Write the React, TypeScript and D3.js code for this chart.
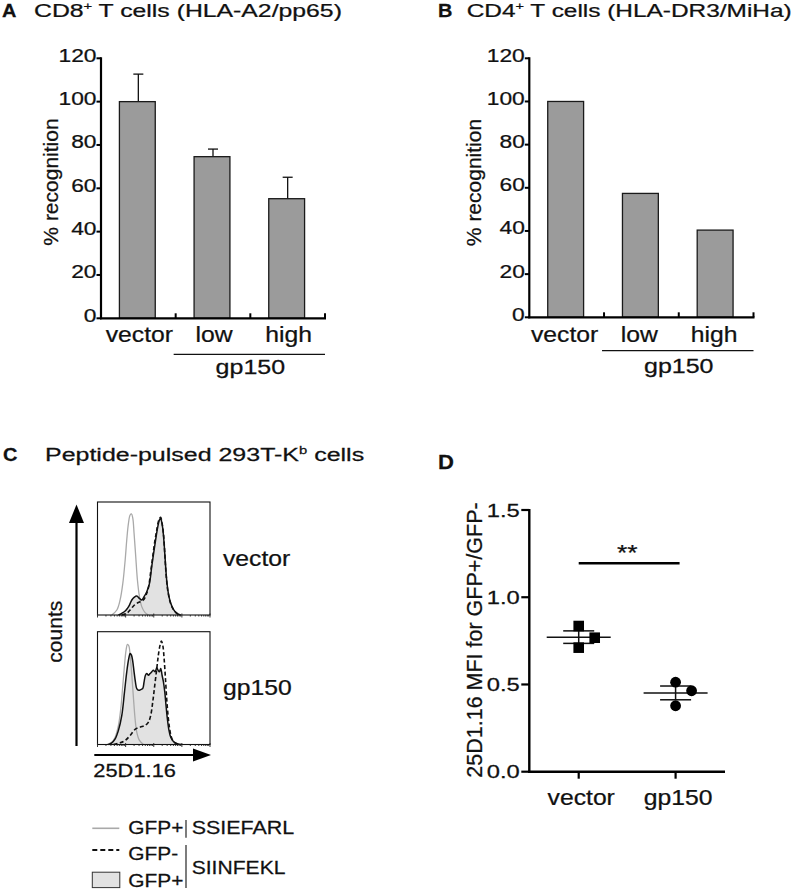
import React from "react";
import * as d3 from "d3";

// ---------------- DATA ----------------
const barCategories = ["vector", "low", "high"];
const cd8Recognition = [100, 74.6, 55.2];
const cd8Error = [12.7, 3.5, 9.9];
const cd4Recognition = [100, 57.4, 40.4];
const recognitionTicks = [0, 20, 40, 60, 80, 100, 120];

// Flow histograms: [25D1.16 position (0-100 of axis), normalized counts (0-100)]
const vecGfpPosSSIEFARL: [number, number][] = [[12.7,0],[17.2,4.4],[20.1,13.3],[22.5,28],[24.6,48.7],[26,66.4],[27.5,81.1],[29,88.5],[30.2,89.4],[31.4,85.5],[32.5,72.3],[34,51.6],[35.5,30.7],[37.3,16.2],[39.3,7.4],[42.3,2.1],[45.3,0]];
const vecGfpPosSIINFEKL: [number, number][] = [[18.6,0],[21.6,1.5],[24.6,3.5],[26.6,5.9],[28.4,8.8],[30.5,13.3],[32.5,15.6],[34.9,16.8],[37.3,14.7],[39.3,13.3],[41.4,16.2],[43.8,20.6],[46.2,28],[48.2,42.8],[50.3,57.5],[52.1,69.3],[53.6,78.2],[55,84.1],[55.9,85.5],[56.8,83.5],[58,76.7],[59.2,63.4],[60.4,45.7],[61.5,31],[63,19.2],[65.1,10.3],[67.5,5],[70.4,1.5],[74,0]];
const vecGfpNegSIINFEKL: [number, number][] = [[21.6,0],[26,1.5],[29,4.4],[32,8],[34.9,10.3],[37.9,11.8],[40.8,13.3],[43.2,17.7],[45.3,24.5],[47.3,38.3],[49.1,51.6],[50.9,64.9],[52.7,75.2],[54.1,82.6],[55.3,85.5],[56.2,86.4],[57.4,81.1],[58.6,72.3],[59.8,54.6],[60.9,36.9],[62.4,22.1],[64.5,11.8],[66.9,5.9],[69.8,2.1],[73.4,0]];
const gpGfpPosSSIEFARL: [number, number][] = [[8.3,0],[12.7,2.1],[15.7,6.5],[18.6,16.9],[20.7,31.8],[22.5,52.5],[24,70.3],[25.4,83.7],[26.6,88.7],[27.8,87.5],[29,79.2],[30.5,61.4],[32,40.7],[33.4,22.8],[34.9,11],[37.3,3.6],[40.8,0]];
const gpGfpPosSIINFEKL: [number, number][] = [[9.8,0],[12.7,1.5],[15.7,5],[18.6,12.5],[21.6,25.8],[24,46.6],[26,64.4],[27.8,76.3],[29,80.7],[30.2,79.2],[31.4,73.3],[32.5,64.4],[33.7,55.5],[34.9,49.6],[36.7,48.1],[38.5,48.7],[40.2,49.6],[41.4,55.5],[42.6,61.4],[43.8,62.9],[45.3,61.4],[46.7,62.9],[48.2,64.4],[49.7,65.9],[51.2,64.4],[52.7,68],[53.8,65.9],[55,64.4],[56.2,67.4],[57.4,61.4],[58.6,55.5],[59.8,46.6],[60.9,34.7],[62.1,22.8],[63.3,13.9],[65.1,6.5],[67.5,2.7],[71,0.6],[74.9,0]];
const gpGfpNegSIINFEKL: [number, number][] = [[14.2,0],[20.1,1.5],[24.6,3.6],[29,8],[33.4,13.4],[37.9,15.4],[42.3,16.9],[45.3,19.9],[47.3,25.8],[49.1,37.7],[50.9,52.5],[52.7,67.4],[54.1,79.2],[55.6,88.1],[56.8,91.7],[58,88.1],[59.2,76.3],[60.4,58.5],[61.5,40.7],[62.7,25.8],[63.9,15.4],[65.7,6.5],[68,2.1],[71.9,0]];
const histRows = ["vector", "gp150"];

const mfiCategories = ["vector", "gp150"];
const mfiVector = [0.835, 0.768, 0.711];
const mfiGp150 = [0.513, 0.464, 0.378];
const mfiTicks = [0, 0.5, 1.0, 1.5];
const mfiTickLabels = ["0.0", "0.5", "1.0", "1.5"];

// ---------------- HELPERS ----------------
const FONT = "'Liberation Sans', Arial, Helvetica, sans-serif";
const INK = "#111";

function T(props: any) {
  const { x, y, sx = 1, size = 19, anchor = "start", weight, rotate, children } = props;
  const tr = rotate
    ? `translate(${x},${y}) rotate(-90) scale(${sx},1)`
    : `translate(${x},${y}) scale(${sx},1)`;
  return (
    <text transform={tr} fontSize={size} textAnchor={anchor} fontWeight={weight} fill={INK} stroke={INK} strokeWidth={0.25}>
      {children}
    </text>
  );
}

function BarPanel(props: any) {
  const { x0, x1, yTop, yBottom, values, errors, labelX, bracketY, gpBaseline } = props;
  const y = d3.scaleLinear().domain([0, 120]).range([yBottom, yTop]);
  const x = d3.scaleBand<string>().domain(barCategories).range([x0 - 1, x1 - 1]).paddingInner(0.52).paddingOuter(0.26);
  const step = x.step();
  return (
    <g>
      {barCategories.map((c, i) => {
        const v = values[i];
        const bx = x(c)!;
        const cx = bx + x.bandwidth() / 2;
        return (
          <g key={c}>
            {errors && (
              <g stroke="#111" strokeWidth={1.3}>
                <line x1={cx + 1} x2={cx + 1} y1={y(v)} y2={y(v + errors[i])} />
                <line x1={cx - 4} x2={cx + 6} y1={y(v + errors[i])} y2={y(v + errors[i])} />
              </g>
            )}
            <rect x={bx} y={y(v)} width={x.bandwidth()} height={y(0) - y(v)} fill="#9b9b9b" stroke="#1a1a1a" strokeWidth={1.3} />
          </g>
        );
      })}
      {/* y axis */}
      <line x1={x0} x2={x0} y1={yTop - 1} y2={yBottom + 1} stroke="#000" strokeWidth={2.2} />
      {recognitionTicks.map((t) => (
        <g key={t}>
          <line x1={x0 - 4.5} x2={x0} y1={y(t)} y2={y(t)} stroke="#000" strokeWidth={2} />
          <T x={x0 - 4.5} y={y(t) + 3.5} size={19} sx={1.2} anchor="end">{String(t)}</T>
        </g>
      ))}
      {/* x axis */}
      <line x1={x0 - 1} x2={x1 + 1} y1={yBottom} y2={yBottom} stroke="#000" strokeWidth={2.2} />
      {barCategories.map((c, i) => (
        <line key={c} x1={x0 + step * (i + 1)} x2={x0 + step * (i + 1)} y1={yBottom} y2={yBottom - 5} stroke="#000" strokeWidth={2} />
      ))}
      {barCategories.map((c) => (
        <T key={c} x={x(c)! + x.bandwidth() / 2 + labelX} y={341.7} size={21.5} sx={1.15} anchor="middle">{c}</T>
      ))}
      <line x1={x0 + step - 2} x2={x1} y1={bracketY} y2={bracketY} stroke="#111" strokeWidth={1.2} />
      <T x={(x0 + step + x1) / 2} y={gpBaseline} size={20} sx={1.25} anchor="middle">gp150</T>
    </g>
  );
}

function Histogram(props: any) {
  const { top, bottom, pos, neg, ctrl } = props;
  const left = 97.5, right = 210;
  const xs = d3.scaleLinear().domain([0, 100]).range([left, right]);
  const ys = d3.scaleLinear().domain([0, 100]).range([bottom, top]);
  const line = d3.line<[number, number]>().x((d) => xs(d[0])).y((d) => ys(d[1])).curve(d3.curveCatmullRom.alpha(0.5));
  const area = d3.area<[number, number]>().x((d) => xs(d[0])).y0(ys(0)).y1((d) => ys(d[1])).curve(d3.curveCatmullRom.alpha(0.5));
  const ticks: { x: number; major: boolean }[] = [];
  const decade = (right - left) / 4;
  for (let d = 0; d < 4; d++) {
    for (let k = 1; k <= 9; k++) ticks.push({ x: left + decade * (d + Math.log10(k)), major: k === 1 });
  }
  ticks.push({ x: right, major: true });
  return (
    <g>
      <path d={area(pos)!} fill="#e2e2e2" stroke="none" />
      <path d={line(ctrl)!} fill="none" stroke="#a9a9a9" strokeWidth={1.3} />
      <path d={line(pos)!} fill="none" stroke="#111" strokeWidth={1.5} />
      <path d={line(neg)!} fill="none" stroke="#111" strokeWidth={1.6} strokeDasharray="4,2.5" />
      <rect x={left} y={top} width={right - left} height={bottom - top} fill="none" stroke="#111" strokeWidth={1.1} />
      {ticks.map((t, i) => (
        <line key={i} x1={t.x} x2={t.x} y1={bottom - (t.major ? 1.5 : 0)} y2={bottom + (t.major ? 2.5 : 1.5)} stroke="#222" strokeWidth={0.9} />
      ))}
    </g>
  );
}

function MfiPanel() {
  const x0 = 529.3, x1 = 725;
  const y = d3.scaleLinear().domain([0, 1.5]).range([771.7, 510]);
  const x = d3.scalePoint<string>().domain(mfiCategories).range([x0, x1]).padding(0.51);
  const groups = [mfiVector, mfiGp150];
  const jitter = [0, 16, 0];
  return (
    <g>
      {groups.map((vals, gi) => {
        const cx = x(mfiCategories[gi])!;
        const mean = d3.mean(vals)!;
        const sem = d3.deviation(vals)! / Math.sqrt(vals.length);
        return (
          <g key={gi}>
            <g stroke="#111" strokeWidth={1.5}>
              <line x1={cx - 32} x2={cx + 32} y1={y(mean)} y2={y(mean)} />
              <line x1={cx - 15.5} x2={cx + 15.5} y1={y(mean + sem)} y2={y(mean + sem)} />
              <line x1={cx - 15.5} x2={cx + 15.5} y1={y(mean - sem)} y2={y(mean - sem)} />
              <line x1={cx} x2={cx} y1={y(mean + sem)} y2={y(mean - sem)} />
            </g>
            {vals.map((v, i) =>
              gi === 0 ? (
                <rect key={i} x={cx + jitter[i] - 5.3} y={y(v) - 5.3} width={10.6} height={10.6} fill="#000" />
              ) : (
                <circle key={i} cx={cx + jitter[i]} cy={y(v)} r={5.4} fill="#000" />
              )
            )}
          </g>
        );
      })}
      <line x1={x0} x2={x0} y1={509} y2={772.9} stroke="#000" strokeWidth={2.4} />
      <line x1={x0 - 1} x2={x1} y1={771.7} y2={771.7} stroke="#000" strokeWidth={2.4} />
      {mfiTicks.map((t, i) => (
        <g key={t}>
          <line x1={x0 - 8} x2={x0} y1={y(t)} y2={y(t)} stroke="#000" strokeWidth={2.2} />
          <T x={x0 - 9.5} y={y(t) + 6.6} size={19} sx={1.25} anchor="end">{mfiTickLabels[i]}</T>
        </g>
      ))}
      {mfiCategories.map((c) => (
        <g key={c}>
          <line x1={x(c)!} x2={x(c)!} y1={771.7} y2={778.7} stroke="#000" strokeWidth={2.2} />
          <T x={x(c)! + 2.5} y={805} size={21.5} sx={1.15} anchor="middle">{c}</T>
        </g>
      ))}
      <line x1={x(mfiCategories[0])!} x2={x(mfiCategories[1])! + 4} y1={563.3} y2={563.3} stroke="#000" strokeWidth={2.5} />
      <T x={627.3} y={560} size={22} sx={1.2} anchor="middle">**</T>
      <T x={481.5} y={640} size={21.5} anchor="middle" rotate>25D1.16 MFI for GFP+/GFP-</T>
    </g>
  );
}

export default function App() {
  return (
    <svg width={797} height={889} style={{ position: "absolute", left: 0, top: 0, background: "#fff" }} fontFamily={FONT}>
      <rect width={797} height={889} fill="#fff" />
      {/* Panel A */}
      <T x={2} y={17.3} size={19} weight="bold" sx={1.05}>A</T>
      <T x={34} y={17.3} size={18.5} sx={1.34}>
        CD8<tspan fontSize={11} dy={-7}>+</tspan><tspan dy={7}> T cells (HLA-A2/pp65)</tspan>
      </T>
      <T x={57.5} y={182} size={21} anchor="middle" rotate>% recognition</T>
      <BarPanel x0={101} x1={325} yTop={58.3} yBottom={318.3} values={cd8Recognition} errors={cd8Error} labelX={2} bracketY={354.3} gpBaseline={374} />

      {/* Panel B */}
      <T x={438} y={17.3} size={19} weight="bold" sx={1.05}>B</T>
      <T x={466.7} y={17.3} size={18.5} sx={1.32}>
        CD4<tspan fontSize={11} dy={-7}>+</tspan><tspan dy={7}> T cells (HLA-DR3/MiHa)</tspan>
      </T>
      <T x={480.5} y={182.5} size={21} anchor="middle" rotate>% recognition</T>
      <BarPanel x0={529.3} x1={753.5} yTop={58.3} yBottom={317.3} values={cd4Recognition} labelX={-1} bracketY={350.7} gpBaseline={373} />

      {/* Panel C */}
      <T x={3} y={460.7} size={19} weight="bold" sx={1.05}>C</T>
      <T x={45} y={460.7} size={18.5} sx={1.35}>
        Peptide-pulsed 293T-K<tspan fontSize={11} dy={-7}>b</tspan><tspan dy={7}> cells</tspan>
      </T>
      <Histogram top={502} bottom={615} pos={vecGfpPosSIINFEKL} neg={vecGfpNegSIINFEKL} ctrl={vecGfpPosSSIEFARL} />
      <Histogram top={631.7} bottom={744.5} pos={gpGfpPosSIINFEKL} neg={gpGfpNegSIINFEKL} ctrl={gpGfpPosSSIEFARL} />
      <T x={223} y={566} size={21.5} sx={1.15}>{histRows[0]}</T>
      <T x={223} y={695} size={21.5} sx={1.15}>{histRows[1]}</T>
      {/* counts arrow */}
      <line x1={76.5} x2={76.5} y1={746} y2={518} stroke="#000" strokeWidth={2.2} />
      <polygon points="76.5,504.5 69,523 84,523" fill="#000" />
      <T x={61.5} y={631.7} size={21} anchor="middle" rotate>counts</T>
      {/* 25D1.16 arrow */}
      <line x1={94.3} x2={197} y1={755} y2={755} stroke="#000" strokeWidth={2.2} />
      <polygon points="211,755 193,748.5 193,761.5" fill="#000" />
      <T x={93.3} y={776.7} size={17.5} sx={1.25}>25D1.16</T>

      {/* Legend */}
      <line x1={92.3} x2={119.3} y1={828.3} y2={828.3} stroke="#a9a9a9" strokeWidth={1.6} />
      <line x1={92.3} x2={119.3} y1={850} y2={850} stroke="#111" strokeWidth={1.8} strokeDasharray="5,3" />
      <rect x={92.3} y={872.2} width={27.5} height={15.4} fill="#e2e2e2" stroke="#333" strokeWidth={1} />
      <T x={128.3} y={834.3} size={18.5} sx={1.13}>GFP+</T>
      <T x={128.3} y={860} size={18.5} sx={1.13}>GFP-</T>
      <T x={128.3} y={886.5} size={18.5} sx={1.13}>GFP+</T>
      <line x1={186} x2={186} y1={820} y2={837.7} stroke="#111" strokeWidth={1.1} />
      <line x1={186} x2={186} y1={845} y2={888} stroke="#111" strokeWidth={1.1} />
      <T x={191.7} y={834.3} size={18.5} sx={1.16}>SSIEFARL</T>
      <T x={191.7} y={874.3} size={18.5} sx={1.14}>SIINFEKL</T>

      {/* Panel D */}
      <T x={438} y={469.3} size={21} weight="bold" sx={1.05}>D</T>
      <MfiPanel />
    </svg>
  );
}
